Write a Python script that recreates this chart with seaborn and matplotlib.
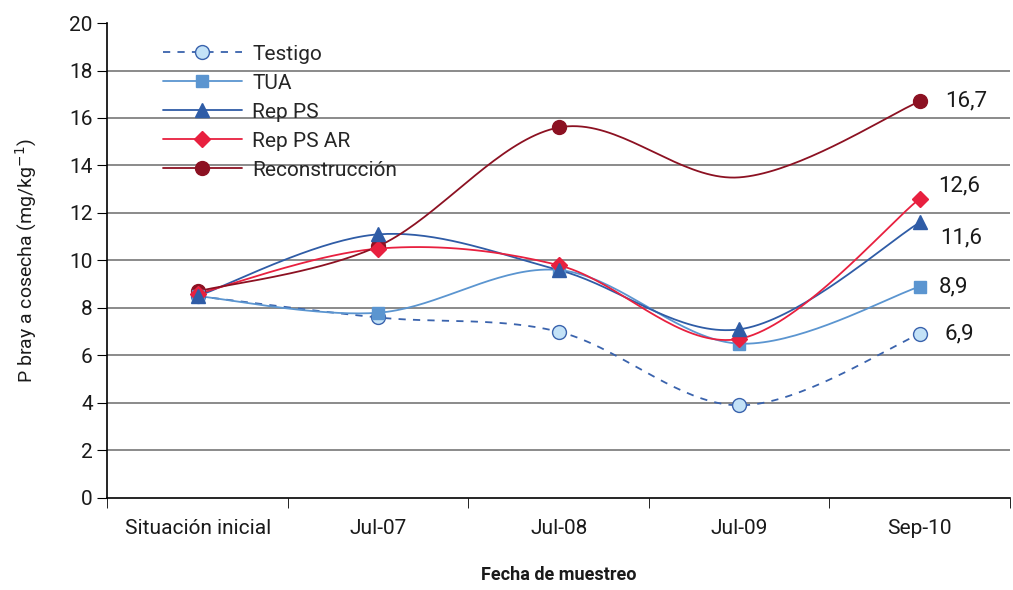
import numpy as np
import pandas as pd
import matplotlib
matplotlib.use('Agg')
import matplotlib.pyplot as plt
import seaborn as sns
from matplotlib.lines import Line2D

fechas = ['Situación inicial', 'Jul-07', 'Jul-08', 'Jul-09', 'Sep-10']
testigo = [8.5, 7.6, 7.0, 3.9, 6.9]
tua = [8.5, 7.8, 9.6, 6.5, 8.9]
rep_ps = [8.5, 11.1, 9.6, 7.1, 11.6]
rep_ps_ar = [8.6, 10.5, 9.8, 6.7, 12.6]
reconstruccion = [8.7, 10.6, 15.6, 13.5, 16.7]

series = {
    'Testigo': testigo,
    'TUA': tua,
    'Rep PS': rep_ps,
    'Rep PS AR': rep_ps_ar,
    'Reconstrucción': reconstruccion,
}
colores = {'Testigo': '#3a63ad', 'TUA': '#5b95d0', 'Rep PS': '#2f5ca6',
           'Rep PS AR': '#e8203f', 'Reconstrucción': '#8c1122'}
marcadores = {'Testigo': 'o', 'TUA': 's', 'Rep PS': '^', 'Rep PS AR': 'D', 'Reconstrucción': 'o'}
relleno = {'Testigo': '#c3e2f7', 'TUA': '#5b95d0', 'Rep PS': '#2f5ca6',
           'Rep PS AR': '#e8203f', 'Reconstrucción': '#8c1122'}
tamano = {'Testigo': 10, 'TUA': 9, 'Rep PS': 10, 'Rep PS AR': 8.5, 'Reconstrucción': 10}
estilo = {'Testigo': (0, (4, 4)), 'TUA': '-', 'Rep PS': '-', 'Rep PS AR': '-', 'Reconstrucción': '-'}
capa = {'Testigo': 4.2, 'TUA': 4.4, 'Rep PS': 4.8, 'Rep PS AR': 4.6, 'Reconstrucción': 4.0}
# offsets of the end labels (points)
etiqueta_off = {'Testigo': (18, 0), 'TUA': (14, 0), 'Rep PS': (15, -11), 'Rep PS AR': (13, 9), 'Reconstrucción': (18, 0)}


def suavizar(x, y, n=40):
    # excel-like smoothed line (catmull-rom through the points)
    p = np.column_stack([x, y]).astype(float)
    p = np.vstack([p[0], p, p[-1]])
    out = []
    for i in range(1, len(p) - 2):
        p0, p1, p2, p3 = p[i - 1], p[i], p[i + 1], p[i + 2]
        t = np.linspace(0, 1, n)[:, None]
        c1 = p1 + (p2 - p0) / 6
        c2 = p2 - (p3 - p1) / 6
        b = (1 - t) ** 3 * p1 + 3 * (1 - t) ** 2 * t * c1 + 3 * (1 - t) * t ** 2 * c2 + t ** 3 * p2
        out.append(b)
    out = np.vstack(out)
    return out[:, 0], out[:, 1]


sns.set_style('white')
plt.rcParams['font.family'] = ['Roboto', 'DejaVu Sans']

fig = plt.figure(figsize=(10.13, 5.9), dpi=100)
ax = fig.add_axes([0.106, 0.156, 0.891, 0.805])

xpos = np.arange(len(fechas))
handles = []
for nombre, vals in series.items():
    xs, ys = suavizar(xpos, vals)
    df = pd.DataFrame({'x': xs, 'y': ys})
    sns.lineplot(data=df, x='x', y='y', ax=ax, color=colores[nombre], lw=1.3,
                 linestyle=estilo[nombre], sort=False, estimator=None, zorder=3)
    idx = [0, 1, 2, 4] if nombre == 'Reconstrucción' else list(range(len(vals)))
    ax.plot(xpos[idx], np.array(vals)[idx], ls='none', marker=marcadores[nombre],
            ms=tamano[nombre], mfc=relleno[nombre], mec=colores[nombre], mew=1.0,
            zorder=capa[nombre])
    handles.append(Line2D([], [], color=colores[nombre], lw=1.3, linestyle=estilo[nombre],
                          marker=marcadores[nombre], ms=tamano[nombre],
                          mfc=relleno[nombre], mec=colores[nombre]))
    dx, dy = etiqueta_off[nombre]
    ax.annotate(f'{vals[-1]:.1f}'.replace('.', ','), (xpos[-1], vals[-1]),
                xytext=(dx, dy), textcoords='offset points', ha='left', va='center',
                fontsize=16, color='#1a1a1a')

ax.set_xlim(-0.5, 4.5)
ax.set_ylim(0, 20)
ax.set_yticks(np.arange(0, 21, 2))
ax.set_xticks(xpos)
ax.set_xticklabels(fechas)
ax.set_xticks(np.arange(-0.5, 4.6, 1), minor=True)
ax.tick_params(axis='x', which='major', length=0, labelsize=15, pad=15, colors='#1a1a1a')
ax.tick_params(axis='x', which='minor', length=7, direction='out', color='black', bottom=True)
ax.tick_params(axis='y', length=7, direction='out', left=True, labelsize=15, colors='#1a1a1a')
ax.tick_params(axis='y', color='black')
for y in range(2, 20, 2):
    ax.axhline(y, color='#8a8a8a', lw=1.4, zorder=1)
for s in ['top', 'right']:
    ax.spines[s].set_visible(False)
for s in ['left', 'bottom']:
    ax.spines[s].set_color('black')
    ax.spines[s].set_linewidth(1.2)

ax.set_xlabel('Fecha de muestreo', fontsize=13, fontweight='bold', labelpad=20, color='#1a1a1a')
ax.set_ylabel('P bray a cosecha (mg/kg$^{-1}$)', fontsize=14, labelpad=22, color='#1a1a1a')

ax.legend(handles, list(series.keys()), loc='upper left', bbox_to_anchor=(0.045, 0.985),
          frameon=False, fontsize=15, handlelength=3.8, labelspacing=0.48, borderpad=0.2,
          handletextpad=0.5)

fig.savefig('out.png', dpi=100)
